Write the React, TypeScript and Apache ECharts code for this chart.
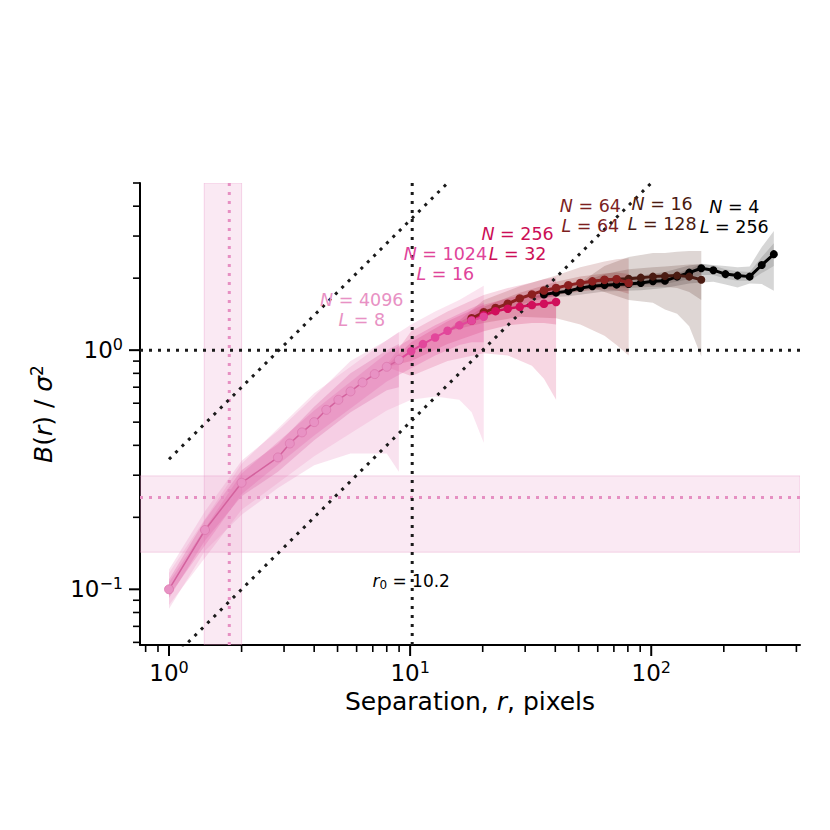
import { useEffect, useRef } from 'react';
import * as echarts from 'echarts';

const FONT = 'DejaVu Sans';
const X_MIN = 0.758;
const X_MAX = 414;
const Y_MIN = 0.0585;
const Y_MAX = 5;

const X_MAJOR = [1, 10, 100];
const X_MINOR = [0.8, 0.9, 2, 3, 4, 5, 6, 7, 8, 9, 20, 30, 40, 50, 60, 70, 80, 90, 200, 300, 400];
const Y_MAJOR = [0.1, 1];
const Y_MINOR = [0.06, 0.07, 0.08, 0.09, 0.2, 0.3, 0.4, 0.5, 0.6, 0.7, 0.8, 0.9, 2, 3, 4, 5];

// separation bins (pixels)
const R = [1, 1.41, 2, 2.83, 3.17, 3.56, 4, 4.49, 5.04, 5.66, 6.35, 7.13, 8, 8.98, 10.1, 11.3, 12.7, 14.3, 16, 18, 20.2, 22.6, 25.4, 28.5, 32, 35.9, 40.3, 45.3, 50.8, 57, 64, 71.8, 80.6, 90.5, 101.6, 114, 128, 143.7, 161.3, 181, 203.2, 228, 256, 287.4, 322.5];

// mean structure function, each series starts at index *_START of R
const A_START = 0;
const A_MEAN = [0.1, 0.177, 0.279, 0.356, 0.407, 0.453, 0.5, 0.563, 0.62, 0.672, 0.733, 0.794, 0.852, 0.911];
const B_START = 13;
const B_MEAN = [0.911, 0.99, 1.06, 1.13, 1.205, 1.27, 1.33, 1.38];
const C_START = 19;
const C_MEAN = [1.33, 1.4, 1.456, 1.49, 1.518, 1.543, 1.563, 1.59];
const D_START = 19;
const D_MEAN = [1.36, 1.44, 1.5, 1.563, 1.645, 1.71, 1.777, 1.82, 1.87, 1.91, 1.94, 1.97, 1.98, 1.91];
const E_START = 30;
const E_MEAN = [1.96, 1.98, 1.99, 2.01, 2.03, 2.04, 2.05, 2.03, 1.97];
const F_START = 25;
const F_MEAN = [1.71, 1.74, 1.765, 1.82, 1.85, 1.87, 1.88, 1.89, 1.91, 1.94, 1.95, 2.03, 2.11, 2.2, 2.16, 2.08, 2.05, 2.03, 2.27, 2.52];

// spread bands
const A_BR = [1, 1.41, 2, 2.83, 4, 5.66, 8, 8.98];
const A_OUT_LO = [0.083, 0.145, 0.205, 0.265, 0.33, 0.37, 0.37, 0.31];
const A_OUT_HI = [0.121, 0.212, 0.345, 0.46, 0.64, 0.9, 1.1, 1.19];
const A_IN_LO = [0.092, 0.16, 0.245, 0.31, 0.42, 0.55, 0.68, 0.7];
const A_IN_HI = [0.11, 0.195, 0.315, 0.405, 0.58, 0.8, 1.0, 1.06];

const B_BR = [1, 2, 4, 8, 10.1, 12.7, 16, 18, 20.2];
const B_OUT_LO = [0.086, 0.215, 0.36, 0.56, 0.62, 0.64, 0.62, 0.55, 0.41];
const B_OUT_HI = [0.117, 0.335, 0.66, 1.1, 1.28, 1.45, 1.62, 1.74, 1.86];
const B_IN_LO = [0.094, 0.25, 0.44, 0.74, 0.84, 0.95, 1.05, 1.08, 1.08];
const B_IN_HI = [0.107, 0.305, 0.56, 0.97, 1.12, 1.27, 1.42, 1.5, 1.58];

const C_BR = [8, 10.1, 14.3, 20.2, 25.4, 32, 35.9, 40.3];
const C_OUT_LO = [0.85, 0.78, 0.9, 0.97, 0.95, 0.86, 0.76, 0.62];
const C_OUT_HI = [0.87, 1.2, 1.45, 1.7, 1.82, 1.92, 1.98, 2.02];
const C_IN_LO = [0.85, 0.9, 1.06, 1.2, 1.27, 1.3, 1.3, 1.28];
const C_IN_HI = [0.86, 1.08, 1.32, 1.55, 1.65, 1.72, 1.76, 1.8];

const D_BR = [14.3, 20.2, 28.5, 40.3, 50.8, 64, 71.8, 80.6];
const D_OUT_LO = [1.2, 1.3, 1.38, 1.36, 1.28, 1.15, 1.05, 0.95];
const D_OUT_HI = [1.21, 1.62, 1.85, 2.05, 2.22, 2.35, 2.4, 2.42];
const D_IN_LO = [1.2, 1.37, 1.55, 1.7, 1.76, 1.8, 1.78, 1.72];
const D_IN_HI = [1.21, 1.52, 1.74, 1.93, 2.03, 2.09, 2.11, 2.08];

const E_BR = [50.8, 64, 80.6, 101.6, 114, 128, 143.7, 161.3];
const E_OUT_LO = [1.9, 1.75, 1.62, 1.58, 1.48, 1.42, 1.26, 0.94];
const E_OUT_HI = [1.92, 2.25, 2.45, 2.55, 2.55, 2.58, 2.6, 2.6];
const E_IN_LO = [1.9, 1.86, 1.82, 1.84, 1.84, 1.82, 1.75, 1.62];
const E_IN_HI = [1.92, 2.08, 2.18, 2.22, 2.24, 2.26, 2.28, 2.28];

const F_BR = [32, 45.3, 64, 90.5, 114, 143.7, 161.3, 181, 203.2, 228, 256, 287.4, 322.5];
const F_OUT_LO = [1.65, 1.68, 1.76, 1.78, 1.82, 1.9, 1.92, 1.93, 1.88, 1.83, 1.9, 1.89, 1.77];
const F_OUT_HI = [1.67, 1.86, 1.98, 2.05, 2.12, 2.26, 2.3, 2.27, 2.25, 2.22, 2.24, 2.7, 3.15];
const F_IN_LO = [1.66, 1.74, 1.83, 1.86, 1.89, 1.98, 2.06, 2.06, 1.99, 1.95, 1.95, 2.1, 2.25];
const F_IN_HI = [1.66, 1.8, 1.91, 1.97, 2.02, 2.18, 2.3, 2.26, 2.18, 2.14, 2.12, 2.45, 2.8];

// reference guides
const R0 = 10.2;
const R_SPAN = [1.4, 2.0];
const R_SPAN_MID = 1.778;
const B_SPAN = [0.143, 0.298];
const B_SPAN_MID = 0.242;
const DIAG_UPPER = [[1, 0.35], [14.3, 5.0]];
const DIAG_LOWER = [[1, 0.05], [100, 5.0]];

const ANNOTS = [
  { r: 6.3, b: 1.47, n: '4096', l: '8', color: '#e891c4' },
  { r: 14.0, b: 2.29, n: '1024', l: '16', color: '#e0449a' },
  { r: 27.9, b: 2.78, n: '256', l: '32', color: '#cc0e56' },
  { r: 55.9, b: 3.65, n: '64', l: '64', color: '#7d1f1f' },
  { r: 111, b: 3.71, n: '16', l: '128', color: '#4a1a10' },
  { r: 221, b: 3.6, n: '4', l: '256', color: '#000000' },
];
const R0_LABEL = { r: 10.1, b: 0.108 };

const pts = (start: number, vals: number[]) => vals.map((v, i) => [R[start + i], v]);

function band(rs: number[], lo: number[], hi: number[], fill: string) {
  return {
    type: 'custom',
    coordinateSystem: 'cartesian2d',
    z: 2,
    silent: true,
    clip: true,
    data: [[rs[0], lo[0]]],
    encode: { x: 0, y: 1 },
    renderItem: (_p: any, api: any) => {
      const top = rs.map((r, i) => api.coord([r, hi[i]]));
      const bot = rs.map((r, i) => api.coord([r, lo[i]])).reverse();
      return { type: 'polygon', shape: { points: top.concat(bot) }, style: { fill }, silent: true };
    },
  };
}

function meanLine(name: string, data: number[][], color: string, lineColor: string, width: number, size: number, border?: string) {
  return {
    type: 'line',
    name,
    z: 4,
    data,
    symbol: 'circle',
    symbolSize: size,
    showSymbol: true,
    clip: true,
    silent: true,
    itemStyle: border ? { color, borderColor: border, borderWidth: 0.8 } : { color, borderWidth: 0 },
    lineStyle: { color: lineColor, width },
  };
}

function guide(data: number[][], color: string) {
  return {
    type: 'line',
    z: 3,
    data,
    symbol: 'none',
    clip: true,
    silent: true,
    lineStyle: { color, width: 3, type: [3, 6], cap: 'butt' },
  };
}

const supLabel = (v: number) => {
  const e = Math.round(Math.log10(v));
  if (Math.abs(Math.log10(v) - e) > 1e-6) return '';
  const es = e < 0 ? '\u2212' + Math.abs(e) : String(e);
  return '{b|10}{s|' + es + '}';
};

const labelRich = {
  b: { fontSize: 23, fontFamily: FONT, color: '#000', lineHeight: 28 },
  s: { fontSize: 16, fontFamily: FONT, color: '#000', lineHeight: 14, verticalAlign: 'top' },
};

export default function App() {
  const ref = useRef<HTMLDivElement>(null);
  useEffect(() => {
    document.body.style.margin = '0';
    const chart = echarts.init(ref.current as HTMLDivElement, null, { renderer: 'svg' });
    const option: any = {
      animation: false,
      backgroundColor: '#ffffff',
      grid: { left: 140, right: 30, top: 183, bottom: 185, containLabel: false },
      xAxis: {
        type: 'log',
        logBase: 10,
        min: X_MIN,
        max: X_MAX,
        axisLine: { show: true, onZero: false, lineStyle: { color: '#000', width: 2 } },
        axisTick: { show: false },
        minorTick: { show: false },
        splitLine: { show: false },
        axisLabel: { formatter: supLabel, rich: labelRich, margin: 14, showMinLabel: false, showMaxLabel: false },
        name: '{n|Separation, }{i|r}{n|, pixels}',
        nameLocation: 'middle',
        nameGap: 41,
        nameMoveOverlap: false,
        nameTextStyle: {
          rich: {
            n: { fontSize: 25, fontFamily: FONT, color: '#000', lineHeight: 30 },
            i: { fontSize: 25, fontFamily: FONT, color: '#000', lineHeight: 30, fontStyle: 'italic' },
          },
        },
      },
      yAxis: {
        type: 'log',
        logBase: 10,
        min: Y_MIN,
        max: Y_MAX,
        axisLine: { show: true, onZero: false, lineStyle: { color: '#000', width: 2 } },
        axisTick: { show: false },
        minorTick: { show: false },
        splitLine: { show: false },
        axisLabel: { formatter: supLabel, rich: labelRich, margin: 17, showMinLabel: false, showMaxLabel: false },
        name: '{i|B}{n|(}{i|r}{n|) / }{i|\u03c3}{s|2}',
        nameLocation: 'middle',
        nameGap: 82,
        nameRotate: 90,
        nameMoveOverlap: false,
        nameTextStyle: {
          rich: {
            n: { fontSize: 25, fontFamily: FONT, color: '#000', lineHeight: 30 },
            i: { fontSize: 25, fontFamily: FONT, color: '#000', lineHeight: 30, fontStyle: 'italic' },
            s: { fontSize: 17, fontFamily: FONT, color: '#000', lineHeight: 14, verticalAlign: 'top' },
          },
        },
      },
      series: [
        // shaded spans
        {
          type: 'custom',
          coordinateSystem: 'cartesian2d',
          z: 1,
          silent: true,
          clip: true,
          data: [[R_SPAN[0], B_SPAN[0]]],
          encode: { x: 0, y: 1 },
          renderItem: (_p: any, api: any) => {
            const v1 = api.coord([R_SPAN[0], Y_MAX]);
            const v2 = api.coord([R_SPAN[1], Y_MIN]);
            const h1 = api.coord([X_MIN, B_SPAN[1]]);
            const h2 = api.coord([X_MAX, B_SPAN[0]]);
            const st = { fill: 'rgba(230,143,194,0.2)', stroke: 'rgba(230,143,194,0.35)', lineWidth: 1 };
            return {
              type: 'group',
              children: [
                { type: 'rect', shape: { x: v1[0], y: v1[1], width: v2[0] - v1[0], height: v2[1] - v1[1] }, style: st },
                { type: 'rect', shape: { x: h1[0], y: h1[1], width: h2[0] - h1[0], height: h2[1] - h1[1] }, style: st },
              ],
            };
          },
        },
        // bands
        band(F_BR, F_OUT_LO, F_OUT_HI, 'rgba(0,0,0,0.16)'),
        band(F_BR, F_IN_LO, F_IN_HI, 'rgba(0,0,0,0.13)'),
        band(E_BR, E_OUT_LO, E_OUT_HI, 'rgba(74,27,18,0.18)'),
        band(E_BR, E_IN_LO, E_IN_HI, 'rgba(74,27,18,0.18)'),
        band(D_BR, D_OUT_LO, D_OUT_HI, 'rgba(139,31,31,0.18)'),
        band(D_BR, D_IN_LO, D_IN_HI, 'rgba(139,31,31,0.2)'),
        band(C_BR, C_OUT_LO, C_OUT_HI, 'rgba(208,16,90,0.17)'),
        band(C_BR, C_IN_LO, C_IN_HI, 'rgba(208,16,90,0.2)'),
        band(B_BR, B_OUT_LO, B_OUT_HI, 'rgba(226,73,155,0.15)'),
        band(B_BR, B_IN_LO, B_IN_HI, 'rgba(226,73,155,0.26)'),
        band(A_BR, A_OUT_LO, A_OUT_HI, 'rgba(230,143,194,0.26)'),
        band(A_BR, A_IN_LO, A_IN_HI, 'rgba(220,110,170,0.32)'),
        // guides
        guide([[R_SPAN_MID, Y_MIN], [R_SPAN_MID, Y_MAX]], '#e68fc2'),
        guide([[X_MIN, B_SPAN_MID], [X_MAX, B_SPAN_MID]], '#e68fc2'),
        guide([[R0, Y_MIN], [R0, Y_MAX]], '#1a1a1a'),
        guide([[X_MIN, 1], [X_MAX, 1]], '#1a1a1a'),
        guide(DIAG_UPPER, '#1a1a1a'),
        guide(DIAG_LOWER, '#1a1a1a'),
        // mean curves
        meanLine('N=4, L=256', pts(F_START, F_MEAN), '#000000', '#000000', 3, 8),
        meanLine('N=16, L=128', pts(E_START, E_MEAN), '#4a1b12', '#4a1b12', 3, 8),
        meanLine('N=64, L=64', pts(D_START, D_MEAN), '#8b1f1f', '#8b1f1f', 3, 8.5),
        meanLine('N=256, L=32', pts(C_START, C_MEAN), '#d10f5b', '#d10f5b', 2.5, 8.5),
        meanLine('N=1024, L=16', pts(B_START, B_MEAN), '#e2479b', '#e2479b', 2, 8.5),
        meanLine('N=4096, L=8', pts(A_START, A_MEAN), '#e892c4', '#d4629e', 1.5, 9, '#dc78ae'),
        // annotations
        {
          type: 'custom',
          coordinateSystem: 'cartesian2d',
          z: 8,
          silent: true,
          clip: false,
          data: ANNOTS.map((a) => [a.r, a.b]),
          encode: { x: 0, y: 1 },
          renderItem: (p: any, api: any) => {
            const a = ANNOTS[p.dataIndex];
            const q = api.coord([a.r, a.b]);
            const base = { fontSize: 17.5, fontFamily: FONT, fill: a.color, lineHeight: 20 };
            return {
              type: 'text',
              x: q[0],
              y: q[1],
              style: {
                text: '{i|N}{n| = ' + a.n + '}\n{i|L}{n| = ' + a.l + '}',
                align: 'center',
                verticalAlign: 'middle',
                ...base,
                rich: { i: { ...base, fontStyle: 'italic' }, n: { ...base } },
              },
            };
          },
        },
        {
          type: 'custom',
          coordinateSystem: 'cartesian2d',
          z: 8,
          silent: true,
          clip: false,
          data: [[R0_LABEL.r, R0_LABEL.b]],
          encode: { x: 0, y: 1 },
          renderItem: (_p: any, api: any) => {
            const q = api.coord([R0_LABEL.r, R0_LABEL.b]);
            const base = { fontSize: 17, fontFamily: FONT, fill: '#000', lineHeight: 20 };
            return {
              type: 'text',
              x: q[0],
              y: q[1],
              style: {
                text: '{i|r}{sub|0}{n| = ' + R0 + '}',
                align: 'center',
                verticalAlign: 'middle',
                ...base,
                rich: {
                  i: { ...base, fontStyle: 'italic' },
                  n: { ...base },
                  sub: { ...base, fontSize: 12, lineHeight: 10, verticalAlign: 'bottom' },
                },
              },
            };
          },
        },
        // axis ticks (major + minor, log positions)
        {
          type: 'custom',
          coordinateSystem: 'cartesian2d',
          z: 9,
          silent: true,
          clip: false,
          data: [[1, 1]],
          encode: { x: 0, y: 1 },
          renderItem: (_p: any, api: any) => {
            const children: any[] = [];
            const xt = (v: number, len: number, w: number) => {
              const q = api.coord([v, Y_MIN]);
              children.push({ type: 'line', shape: { x1: q[0], y1: q[1], x2: q[0], y2: q[1] + len }, style: { stroke: '#000', lineWidth: w } });
            };
            const yt = (v: number, len: number, w: number) => {
              const q = api.coord([X_MIN, v]);
              children.push({ type: 'line', shape: { x1: q[0], y1: q[1], x2: q[0] - len, y2: q[1] }, style: { stroke: '#000', lineWidth: w } });
            };
            X_MAJOR.forEach((v) => xt(v, 11, 2));
            X_MINOR.forEach((v) => xt(v, 7, 1.6));
            Y_MAJOR.forEach((v) => yt(v, 11, 2));
            Y_MINOR.forEach((v) => yt(v, 7, 1.6));
            return { type: 'group', children };
          },
        },
      ],
    };
    chart.setOption(option);
    return () => chart.dispose();
  }, []);
  return <div ref={ref} style={{ width: 830, height: 830 }} />;
}
